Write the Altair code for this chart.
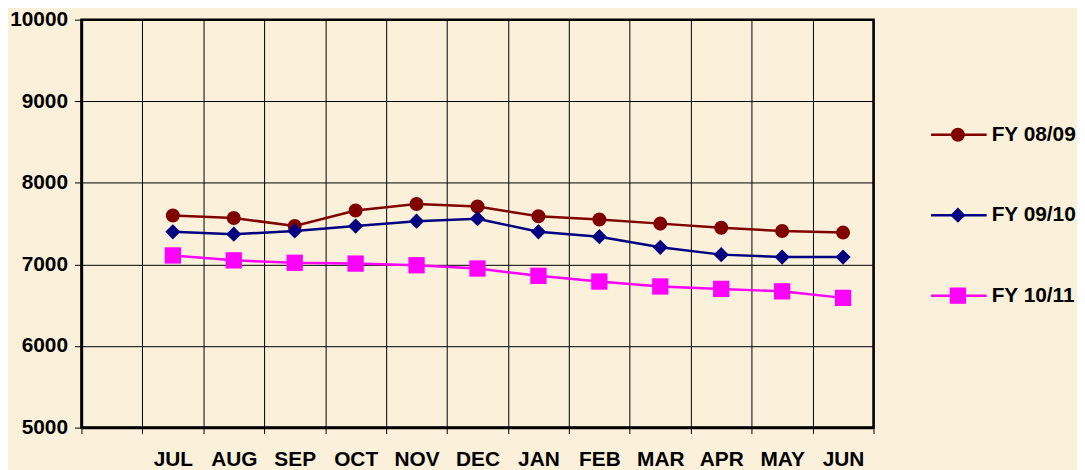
import altair as alt
import pandas as pd

months = ["JUL", "AUG", "SEP", "OCT", "NOV", "DEC", "JAN", "FEB", "MAR", "APR", "MAY", "JUN"]
series = ["FY 08/09", "FY 09/10", "FY 10/11"]
fy0809 = [7600, 7570, 7470, 7660, 7740, 7710, 7590, 7550, 7500, 7450, 7410, 7390]
fy0910 = [7400, 7370, 7410, 7470, 7530, 7560, 7400, 7340, 7210, 7120, 7090, 7090]
fy1011 = [7110, 7050, 7020, 7010, 6990, 6950, 6860, 6790, 6730, 6700, 6670, 6590]
y_ticks = [5000, 6000, 7000, 8000, 9000, 10000]
colors = ["#800000", "#000080", "#FF00FF"]
shapes = ["circle", "diamond", "square"]
marker_sizes = [200, 270, 215]

rows = []
for s, vals in zip(series, [fy0809, fy0910, fy1011]):
    for m, v in zip(months, vals):
        rows.append({"month": m, "series": s, "value": v})
df = pd.DataFrame(rows)

x_domain = [" "] + months
FONT = "Liberation Sans"
FS = 21

color = alt.Color("series:N", scale=alt.Scale(domain=series, range=colors), legend=None)
shape = alt.Shape("series:N", scale=alt.Scale(domain=series, range=shapes), legend=None)
size = alt.Size("series:N", scale=alt.Scale(domain=series, range=marker_sizes), legend=None)

x = alt.X(
    "month:N",
    scale=alt.Scale(domain=x_domain, type="band", paddingInner=0, paddingOuter=0),
    bandPosition=0.5,
    axis=alt.Axis(
        title=None, tickBand="extent", labelAngle=0, labelFont=FONT, labelFontSize=FS,
        labelFontWeight="bold", labelColor="black", labelPadding=15, tickSize=6,
        tickColor="black", tickWidth=1, grid=True, gridColor="black", gridWidth=1,
        gridOpacity=1, domainColor="black", domainWidth=2.5,
    ),
)
y = alt.Y(
    "value:Q",
    scale=alt.Scale(domain=[5000, 10000], nice=False, zero=False),
    axis=alt.Axis(
        values=y_ticks, format="d", title=None, labelFont=FONT, labelFontSize=FS,
        labelFontWeight="bold", labelColor="black", labelPadding=7, tickSize=7,
        tickColor="black", tickWidth=1, grid=True, gridColor="black", gridWidth=1,
        gridOpacity=1, domainColor="black", domainWidth=2.5,
    ),
)

base = alt.Chart(df)
lines = base.mark_line(strokeWidth=2.5).encode(x=x, y=y, color=color, detail="series:N")
pts = base.mark_point(filled=True, opacity=1).encode(x=x, y=y, color=color, shape=shape, size=size)
main = alt.layer(lines, pts).properties(
    width=798, height=411,
    view=alt.ViewBackground(stroke="black", strokeWidth=2.5),
)

# legend rows (index 0..2, top to bottom)
leg_df = pd.DataFrame({"series": series, "row": list(range(len(series)))})
ly = alt.Y("row:Q", scale=alt.Scale(domain=[-1.43, 3.43], reverse=True, nice=False, zero=False), axis=None)
lbase = alt.Chart(leg_df)
lrule = lbase.mark_rule(strokeWidth=2.5).encode(x=alt.value(0), x2=alt.value(56), y=ly, color=color)
lpts = lbase.mark_point(filled=True, opacity=1).encode(x=alt.value(27), y=ly, color=color, shape=shape, size=size)
ltxt = lbase.mark_text(align="left", baseline="middle", font=FONT, fontSize=FS, fontWeight="bold", color="black").encode(
    x=alt.value(61), y=ly, text="series:N"
)
legend = alt.layer(lrule, lpts, ltxt).properties(
    width=140, height=394, view=alt.ViewBackground(strokeWidth=0)
)

chart = alt.hconcat(main, legend, spacing=54).configure(
    background="#FBF1DB", padding={"left": 0, "top": -3, "right": 0, "bottom": 0}
)

chart.save("out.html", embed_options={"renderer": "svg", "actions": False})
